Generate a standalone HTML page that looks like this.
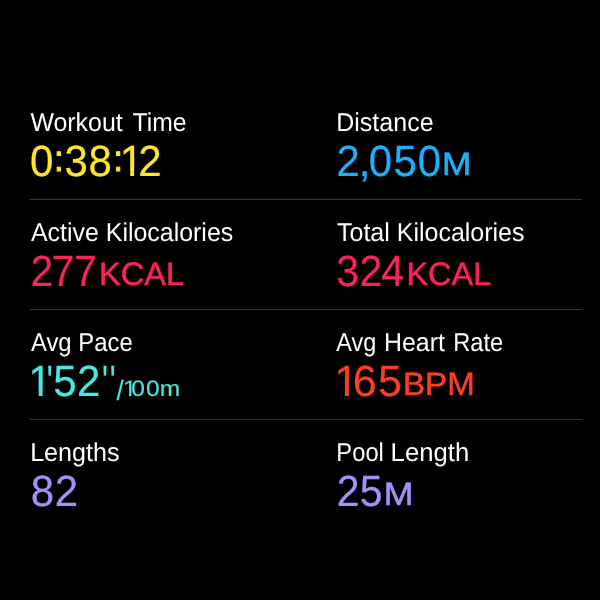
<!DOCTYPE html>
<html lang="en"><head><meta charset="utf-8"><title>Workout Summary</title>
<style>html,body{margin:0;padding:0;background:#000;}body{width:600px;height:600px;overflow:hidden;}svg{display:block;}text{font-family:"Liberation Sans",sans-serif;font-size:100px;white-space:pre;stroke-linejoin:round;text-rendering:geometricPrecision;}</style></head><body>
<svg width="600" height="600" viewBox="0 0 600 600">
<rect width="600" height="600" fill="#000"/>
<rect x="29.6" y="199" width="552.4" height="1" fill="#343436"/>
<rect x="29.6" y="309" width="552.4" height="1" fill="#343436"/>
<rect x="29.6" y="419" width="552.4" height="1" fill="#343436"/>
<text transform="scale(0.25 0.2587)" y="506.33" fill="#ffffff"><tspan x="121.56" textLength="369.17" lengthAdjust="spacingAndGlyphs">Workout</tspan> <tspan x="529.78" textLength="216.22" lengthAdjust="spacingAndGlyphs">Time</tspan></text>
<g><text transform="scale(0.4200 0.4361)" fill="#ffe62a" stroke="#ffe62a" stroke-width="0.48"><tspan x="71.57" y="403.62">0</tspan><tspan x="128.43" y="391.31" font-size="83.2" stroke="#ffe62a" stroke-width="2.38">:</tspan><tspan x="153.33" y="403.62">3</tspan><tspan x="210.65" y="403.62">8</tspan><tspan x="269.38" y="391.31" font-size="83.2" stroke="#ffe62a" stroke-width="2.38">:</tspan><tspan x="285.14" y="403.62">1</tspan></text><rect x="122.05" y="171.34" width="8.17" height="6.16" fill="#000"/><rect x="134.13" y="171.34" width="8.04" height="6.16" fill="#000"/><text transform="scale(0.4200 0.4361)" fill="#ffe62a" stroke="#ffe62a" stroke-width="0.48"><tspan x="329.02" y="403.62">2</tspan></text></g>
<text transform="translate(336.20 131.00) scale(0.2504 0.2587)" fill="#ffffff">Distance</text>
<g><text transform="scale(0.4200 0.4361)" fill="#1fb0fa" stroke="#1fb0fa" stroke-width="0.48"><tspan x="800.92" y="403.62">2</tspan><tspan x="854.11" y="403.62">,</tspan><tspan x="878.24" y="403.62">0</tspan><tspan x="936.95" y="403.62">5</tspan><tspan x="994.90" y="403.62">0</tspan></text></g>
<text transform="translate(441.91 175.00) scale(0.3528 0.3241)" fill="#1fb0fa" stroke="#1fb0fa" stroke-width="1.70">M</text>
<text transform="translate(30.95 241.00) scale(0.2493 0.2587)" fill="#ffffff">Active Kilocalories</text>
<g><text transform="scale(0.4100 0.4361)" fill="#f72458" stroke="#f72458" stroke-width="0.49"><tspan x="74.24" y="655.88">2</tspan><tspan x="125.60" y="655.88">7</tspan><tspan x="180.24" y="655.88">7</tspan></text></g>
<text transform="translate(98.93 285.00) scale(0.3260 0.3241)" fill="#f72458" stroke="#f72458" stroke-width="1.84">KCAL</text>
<text transform="translate(337.04 241.00) scale(0.2498 0.2587)" fill="#ffffff">Total Kilocalories</text>
<g><text transform="scale(0.4120 0.4361)" fill="#f72458" stroke="#f72458" stroke-width="0.49"><tspan x="816.34" y="655.88">3</tspan><tspan x="872.88" y="655.88">2</tspan><tspan x="925.13" y="655.88">4</tspan></text></g>
<text transform="translate(406.44 285.00) scale(0.3244 0.3241)" fill="#f72458" stroke="#f72458" stroke-width="1.85">KCAL</text>
<text transform="translate(30.95 351.00) scale(0.2386 0.2587)" fill="#ffffff">Avg Pace</text>
<g><text transform="scale(0.4200 0.4361)" fill="#4ae6e2" stroke="#4ae6e2" stroke-width="0.48"><tspan x="67.28" y="908.14">1</tspan></text><rect x="30.55" y="391.34" width="8.17" height="6.16" fill="#000"/><rect x="42.63" y="391.34" width="8.04" height="6.16" fill="#000"/><text transform="scale(0.4200 0.4361)" fill="#4ae6e2" stroke="#4ae6e2" stroke-width="0.48"><tspan x="111.25" y="908.14" textLength="14.09" lengthAdjust="spacingAndGlyphs">'</tspan><tspan x="126.95" y="908.14">5</tspan><tspan x="183.07" y="908.14">2</tspan><tspan x="242.68" y="908.14" textLength="14.09" lengthAdjust="spacingAndGlyphs">'</tspan><tspan x="261.25" y="908.14" textLength="14.09" lengthAdjust="spacingAndGlyphs">'</tspan></text></g>
<g><text transform="scale(0.2450 0.2224)" fill="#4ae6e2" stroke="#4ae6e2" stroke-width="0.82"><tspan x="475.92" y="1796.41" font-size="125" textLength="29.06" lengthAdjust="spacingAndGlyphs">/</tspan><tspan x="501.81" y="1780.68">1</tspan></text><rect x="123.91" y="392.94" width="5.10" height="4.56" fill="#000"/><rect x="131.37" y="392.94" width="5.11" height="4.56" fill="#000"/><text transform="scale(0.2450 0.2224)" fill="#4ae6e2" stroke="#4ae6e2" stroke-width="0.82"><tspan x="535.89" y="1780.68">0</tspan><tspan x="595.69" y="1780.68">0</tspan><tspan x="652.54" y="1780.68">m</tspan></text></g>
<text transform="scale(0.25 0.2587)" y="1356.65" fill="#ffffff"><tspan x="1345.42" textLength="159.82" lengthAdjust="spacingAndGlyphs">Avg</tspan> <tspan x="1535.82" textLength="243.71" lengthAdjust="spacingAndGlyphs">Heart</tspan> <tspan x="1813.03" textLength="199.97" lengthAdjust="spacingAndGlyphs">Rate</tspan></text>
<g><text transform="scale(0.4300 0.4361)" fill="#fb3d27" stroke="#fb3d27" stroke-width="0.47"><tspan x="777.12" y="908.14">1</tspan></text><rect x="336.53" y="391.34" width="8.35" height="6.16" fill="#000"/><rect x="348.87" y="391.34" width="8.21" height="6.16" fill="#000"/><text transform="scale(0.4300 0.4361)" fill="#fb3d27" stroke="#fb3d27" stroke-width="0.47"><tspan x="820.50" y="908.14">6</tspan><tspan x="879.14" y="908.14">5</tspan></text></g>
<text transform="translate(402.98 395.00) scale(0.3315 0.3241)" fill="#fb3d27" stroke="#fb3d27" stroke-width="1.81">BPM</text>
<text transform="translate(30.14 461.00) scale(0.2514 0.2587)" fill="#ffffff">Lengths</text>
<g><text transform="scale(0.4200 0.4361)" fill="#a590fa" stroke="#a590fa" stroke-width="0.48"><tspan x="73.27" y="1160.41">8</tspan><tspan x="130.21" y="1160.41">2</tspan></text></g>
<text transform="scale(0.25 0.2587)" y="1781.81" fill="#ffffff"><tspan x="1345.20" textLength="190.36" lengthAdjust="spacingAndGlyphs">Pool</tspan> <tspan x="1562.37" textLength="314.30" lengthAdjust="spacingAndGlyphs">Length</tspan></text>
<g><text transform="scale(0.4100 0.4361)" fill="#a590fa" stroke="#a590fa" stroke-width="0.49"><tspan x="821.07" y="1160.41">2</tspan><tspan x="877.70" y="1160.41">5</tspan></text></g>
<text transform="translate(383.87 505.00) scale(0.3573 0.3241)" fill="#a590fa" stroke="#a590fa" stroke-width="1.68">M</text>
</svg></body></html>
